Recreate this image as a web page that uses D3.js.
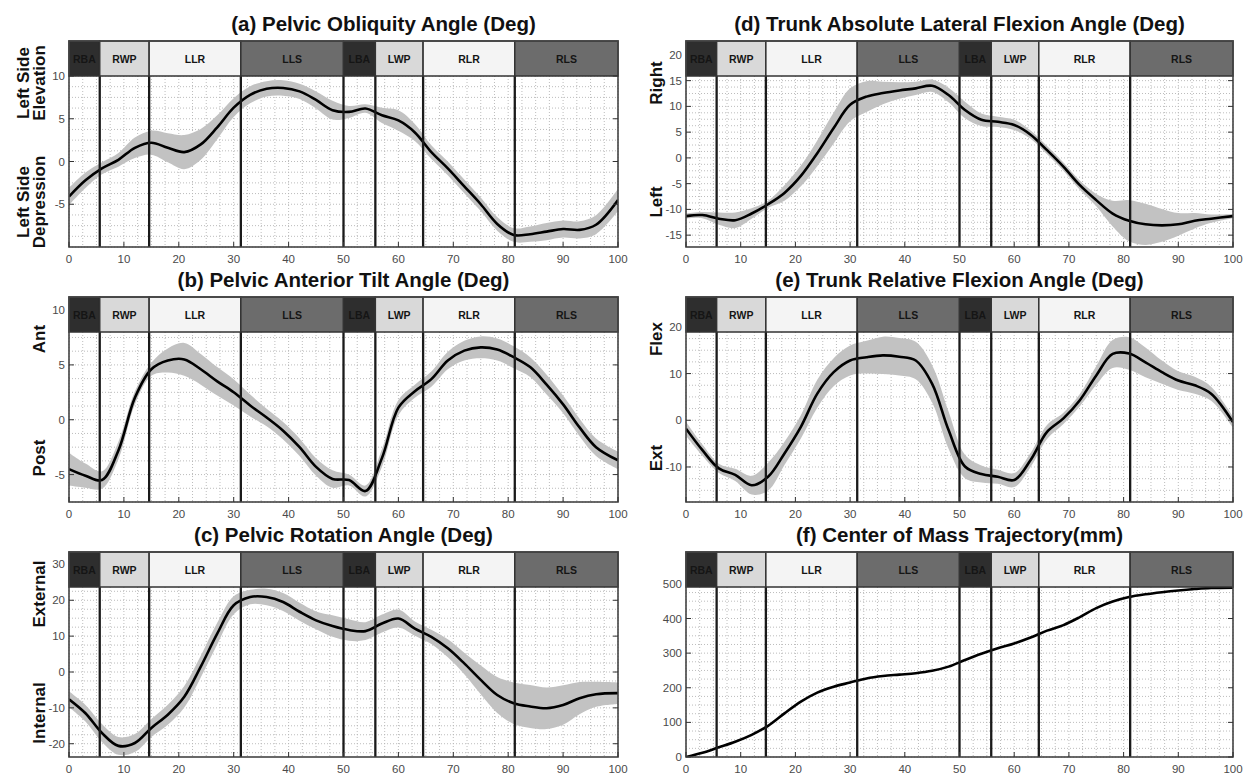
<!DOCTYPE html>
<html>
<head>
<meta charset="utf-8">
<script src="https://cdn.jsdelivr.net/npm/d3@7"></script>
<style>
  html, body { margin: 0; padding: 0; background: #fff; }
  svg { display: block; font-family: "Liberation Sans", Arial, sans-serif; }
</style>
</head>
<body>
<svg id="chart" width="1252" height="776"></svg>
<script>
// gait cycle (%) where the curves were sampled
var gaitPct = [0, 3, 6, 9, 12, 15, 18, 21, 24, 27, 30, 33, 36, 39, 42, 45, 48, 51, 54, 57, 60, 63, 66, 69, 72, 75, 78, 81, 84, 87, 90, 93, 96, 100];

var obliquityMean = [-4.1, -2.2, -0.8, 0.2, 1.6, 2.2, 1.6, 1.1, 2.0, 4.0, 6.3, 7.8, 8.5, 8.6, 8.2, 7.2, 6.0, 5.8, 6.2, 5.4, 4.8, 3.4, 1.1, -0.8, -2.9, -5.0, -7.3, -8.6, -8.5, -8.2, -7.9, -8.0, -7.4, -4.5];
var obliquitySd = [1.0, 0.9, 0.7, 0.8, 1.2, 1.4, 1.7, 2.0, 1.8, 1.4, 1.1, 1.0, 0.9, 0.9, 0.9, 1.0, 1.1, 0.7, 0.5, 0.9, 1.2, 1.0, 0.8, 0.8, 0.8, 0.8, 0.8, 0.8, 0.9, 1.0, 1.0, 1.0, 1.1, 1.3];

var antTiltMean = [-4.5, -5.1, -5.5, -2.8, 2.0, 4.6, 5.4, 5.5, 4.6, 3.5, 2.5, 1.3, 0.2, -1.0, -2.5, -4.3, -5.4, -5.5, -6.5, -3.5, 1.1, 2.6, 3.7, 5.4, 6.3, 6.6, 6.4, 5.7, 4.8, 3.2, 1.4, -0.7, -2.5, -3.7];
var antTiltSd = [1.5, 1.1, 0.8, 0.8, 0.6, 0.6, 1.1, 1.5, 1.4, 1.3, 1.2, 1.0, 0.8, 0.8, 0.8, 0.8, 0.8, 0.5, 0.5, 0.8, 0.7, 0.6, 0.7, 0.8, 0.9, 1.0, 1.0, 1.0, 0.9, 0.9, 0.8, 0.8, 0.8, 0.8];

var rotationMean = [-7.6, -11.5, -17.0, -20.6, -19.8, -15.6, -11.9, -6.9, 1.5, 10.7, 18.6, 20.9, 20.9, 19.5, 16.8, 14.4, 12.8, 11.7, 11.4, 13.5, 14.9, 12.1, 9.8, 6.6, 2.4, -2.2, -6.4, -8.7, -9.6, -10.1, -9.2, -7.3, -6.2, -5.9];
var rotationSd = [2.2, 2.3, 2.5, 2.5, 2.5, 2.5, 2.8, 3.0, 3.0, 3.0, 2.5, 2.0, 2.3, 2.5, 2.5, 2.5, 3.0, 3.0, 2.5, 2.5, 2.5, 2.0, 2.0, 2.5, 3.0, 4.0, 5.0, 5.8, 6.0, 5.8, 5.5, 4.5, 3.5, 3.0];

var lateralFlexMean = [-11.3, -11.1, -11.8, -12.1, -10.8, -9.0, -6.8, -3.5, 0.9, 5.8, 10.3, 11.9, 12.6, 13.1, 13.5, 14.0, 12.2, 9.3, 7.4, 7.0, 6.4, 4.5, 1.5, -1.7, -5.3, -8.2, -10.8, -12.2, -12.9, -13.1, -12.9, -12.2, -11.8, -11.3];
var lateralFlexSd = [0.5, 0.6, 1.2, 1.5, 1.0, 0.7, 1.5, 2.0, 2.5, 3.0, 3.2, 3.0, 2.2, 1.6, 1.3, 1.2, 1.4, 1.6, 1.2, 1.0, 1.0, 0.8, 0.8, 0.8, 0.9, 1.2, 2.5, 4.0, 4.0, 3.2, 2.2, 1.5, 0.8, 0.4];

var relFlexMean = [-1.8, -6.4, -10.3, -11.7, -13.9, -12.1, -7.1, -1.4, 5.7, 10.3, 12.8, 13.5, 13.9, 13.6, 12.8, 7.8, -2.1, -9.9, -11.5, -12.1, -12.8, -8.5, -2.5, 0.4, 4.3, 9.6, 14.2, 14.3, 12.4, 10.3, 8.5, 7.5, 5.7, -0.4];
var relFlexSd = [1.5, 1.2, 1.0, 1.3, 2.0, 3.0, 2.5, 2.5, 3.0, 3.0, 3.2, 3.5, 4.0, 4.0, 4.0, 4.0, 4.0, 2.5, 1.8, 1.5, 1.5, 1.5, 1.5, 1.2, 1.3, 2.0, 3.0, 3.5, 3.2, 2.5, 2.0, 1.8, 1.5, 1.2];

var comTrajectory = [0, 12, 28, 44, 64, 90, 126, 160, 186, 203, 215, 227, 234, 238, 242, 249, 261, 280, 298, 314, 328, 345, 365, 381, 404, 430, 449, 462, 470, 476, 481, 485, 488, 489];

// gait phases
var phaseNames = ["RBA", "RWP", "LLR", "LLS", "LBA", "LWP", "RLR", "RLS"];
var phaseEdges = [0, 5.6, 14.6, 31.3, 50, 55.8, 64.5, 81.2, 100];

var xTickValues = [0, 10, 20, 30, 40, 50, 60, 70, 80, 90, 100];
var obliquityTicks = [-5, 0, 5, 10];
var antTiltTicks = [-5, 0, 5, 10];
var rotationTicks = [-20, -10, 0, 10, 20, 30];
var lateralFlexTicks = [-15, -10, -5, 0, 5, 10, 15, 20];
var relFlexTicks = [-10, 0, 10, 20];
var comTicks = [0, 100, 200, 300, 400, 500];

var phaseShade = { RBA: "#2e2e2e", LBA: "#2e2e2e", RWP: "#d9d9d9", LWP: "#d9d9d9",
                   LLR: "#f4f4f4", RLR: "#f4f4f4", LLS: "#6c6c6c", RLS: "#6c6c6c" };

var cols = [{ x0: 69, x1: 618 }, { x0: 686, x1: 1233 }];
var rows = [{ top: 41, bottom: 247 }, { top: 297, bottom: 502 }, { top: 552, bottom: 757 }];
var barH = 35;

var panels = [
  { id: "a", col: 0, row: 0, title: "(a) Pelvic Obliquity Angle (Deg)", titleShift: 40,
    mean: obliquityMean, sd: obliquitySd, domain: [-10, 10], ticks: obliquityTicks,
    upper: ["Left Side", "Elevation"], lower: ["Left Side", "Depression"] },
  { id: "b", col: 0, row: 1, title: "(b) Pelvic Anterior Tilt Angle (Deg)", titleShift: 0,
    mean: antTiltMean, sd: antTiltSd, domain: [-7.5, 8], ticks: antTiltTicks,
    upper: ["Ant"], lower: ["Post"] },
  { id: "c", col: 0, row: 2, title: "(c) Pelvic Rotation Angle (Deg)", titleShift: 0,
    mean: rotationMean, sd: rotationSd, domain: [-23.7, 23.7], ticks: rotationTicks,
    upper: ["External"], lower: ["Internal"] },
  { id: "d", col: 1, row: 0, title: "(d) Trunk Absolute Lateral Flexion Angle (Deg)", titleShift: 0,
    mean: lateralFlexMean, sd: lateralFlexSd, domain: [-17.3, 15.9], ticks: lateralFlexTicks,
    upper: ["Right"], lower: ["Left"] },
  { id: "e", col: 1, row: 1, title: "(e) Trunk Relative Flexion Angle (Deg)", titleShift: 0,
    mean: relFlexMean, sd: relFlexSd, domain: [-17.5, 18.9], ticks: relFlexTicks,
    upper: ["Flex"], lower: ["Ext"] },
  { id: "f", col: 1, row: 2, title: "(f) Center of Mass Trajectory(mm)", titleShift: 0,
    mean: comTrajectory, sd: null, domain: [0, 491], ticks: comTicks,
    upper: null, lower: null }
];

var svg = d3.select("#chart");
var curve = d3.curveCatmullRom.alpha(0.5);

function drawPanel(p) {
  var c = cols[p.col], r = rows[p.row];
  var plotTop = r.top + barH;
  var x = d3.scaleLinear().domain([0, 100]).range([c.x0, c.x1]);
  var y = d3.scaleLinear().domain(p.domain).range([r.bottom, plotTop]);
  var g = svg.append("g").attr("class", "panel-" + p.id);

  g.append("clipPath").attr("id", "clip-" + p.id)
    .append("rect")
    .attr("x", c.x0).attr("y", plotTop)
    .attr("width", c.x1 - c.x0).attr("height", r.bottom - plotTop);

  // dotted grid (major + minor)
  var step = p.ticks[1] - p.ticks[0];
  var minor = step / 4;
  var yGrid = d3.range(Math.ceil(p.domain[0] / minor) * minor, p.domain[1] + 1e-9, minor);
  var xGrid = d3.range(0, 100.001, 2.5);
  var grid = g.append("g").style("stroke", "#b4b4b4").style("stroke-width", 0.9)
    .style("stroke-dasharray", "1,2");
  grid.selectAll("line.gx").data(xGrid).enter().append("line")
    .attr("x1", function (d) { return x(d); }).attr("x2", function (d) { return x(d); })
    .attr("y1", plotTop).attr("y2", r.bottom);
  grid.selectAll("line.gy").data(yGrid).enter().append("line")
    .attr("x1", c.x0).attr("x2", c.x1)
    .attr("y1", function (d) { return y(d); }).attr("y2", function (d) { return y(d); });

  var pts = gaitPct.map(function (v, i) {
    return { x: v, m: p.mean[i], s: p.sd ? p.sd[i] : 0 };
  });

  var clipped = g.append("g").attr("clip-path", "url(#clip-" + p.id + ")");
  if (p.sd) {
    clipped.append("path").datum(pts)
      .attr("d", d3.area().curve(curve)
        .x(function (d) { return x(d.x); })
        .y0(function (d) { return y(d.m - d.s); })
        .y1(function (d) { return y(d.m + d.s); }))
      .style("fill", "#c2c2c2").style("stroke", "none");
  }

  // phase boundary lines
  g.selectAll("line.phase").data(phaseEdges.slice(1, -1)).enter().append("line")
    .attr("x1", function (d) { return x(d); }).attr("x2", function (d) { return x(d); })
    .attr("y1", r.top).attr("y2", r.bottom)
    .style("stroke", "#1a1a1a").style("stroke-width", 2.3);

  clipped.append("path").datum(pts)
    .attr("d", d3.line().curve(curve)
      .x(function (d) { return x(d.x); })
      .y(function (d) { return y(d.m); }))
    .style("fill", "none").style("stroke", "#000").style("stroke-width", 2.6);

  // phase bar
  var cells = phaseNames.map(function (n, i) { return { name: n, a: phaseEdges[i], b: phaseEdges[i + 1] }; });
  var bar = g.append("g");
  bar.selectAll("rect").data(cells).enter().append("rect")
    .attr("x", function (d) { return x(d.a); })
    .attr("width", function (d) { return x(d.b) - x(d.a); })
    .attr("y", r.top).attr("height", barH)
    .style("fill", function (d) { return phaseShade[d.name]; })
    .style("stroke", "#333").style("stroke-width", 1.5);
  bar.selectAll("text").data(cells).enter().append("text")
    .attr("x", function (d) { return (x(d.a) + x(d.b)) / 2; })
    .attr("y", r.top + barH / 2 + 4)
    .attr("text-anchor", "middle")
    .style("font-size", "10.5px").style("font-weight", "bold").style("fill", "#151515")
    .text(function (d) { return d.name; });

  // axes box
  g.append("rect").attr("x", c.x0).attr("y", r.top)
    .attr("width", c.x1 - c.x0).attr("height", r.bottom - r.top)
    .style("fill", "none").style("stroke", "#444").style("stroke-width", 1.6);

  // ticks
  var tk = g.append("g").style("stroke", "#333").style("stroke-width", 1);
  tk.selectAll("line.bx").data(xTickValues).enter().append("line")
    .attr("x1", function (d) { return x(d); }).attr("x2", function (d) { return x(d); })
    .attr("y1", r.bottom).attr("y2", r.bottom - 5);
  var inY = p.ticks.filter(function (d) { return d >= p.domain[0] && d <= p.domain[1]; });
  tk.selectAll("line.ly").data(inY).enter().append("line")
    .attr("x1", c.x0).attr("x2", c.x0 + 5)
    .attr("y1", function (d) { return y(d); }).attr("y2", function (d) { return y(d); });
  tk.selectAll("line.ry").data(inY).enter().append("line")
    .attr("x1", c.x1).attr("x2", c.x1 - 5)
    .attr("y1", function (d) { return y(d); }).attr("y2", function (d) { return y(d); });

  // tick labels
  g.selectAll("text.xt").data(xTickValues).enter().append("text")
    .attr("x", function (d) { return x(d); }).attr("y", r.bottom + 16)
    .attr("text-anchor", "middle")
    .style("font-size", "11.5px").style("fill", "#4a4a4a")
    .text(function (d) { return d; });
  g.selectAll("text.yt").data(p.ticks).enter().append("text")
    .attr("x", c.x0 - 4).attr("y", function (d) { return y(d) + 4; })
    .attr("text-anchor", "end")
    .style("font-size", "11.5px").style("fill", "#4a4a4a")
    .text(function (d) { return d; });

  // title
  g.append("text")
    .attr("x", (c.x0 + c.x1) / 2 + p.titleShift).attr("y", r.top - 10)
    .attr("text-anchor", "middle")
    .style("font-size", "20.5px").style("font-weight", "bold").style("fill", "#111")
    .text(p.title);

  // side labels
  var labelBase = c.x0 - 24;
  [[p.upper, r.top + 42], [p.lower, r.top + 161]].forEach(function (lab) {
    if (!lab[0]) return;
    var lines = lab[0];
    lines.forEach(function (t, i) {
      var bx = labelBase - (lines.length - 1 - i) * 16;
      g.append("text")
        .attr("transform", "translate(" + bx + "," + lab[1] + ") rotate(-90)")
        .attr("text-anchor", "middle")
        .style("font-size", "17px").style("font-weight", "bold").style("fill", "#111")
        .text(t);
    });
  });
}

panels.forEach(drawPanel);
</script>
</body>
</html>
